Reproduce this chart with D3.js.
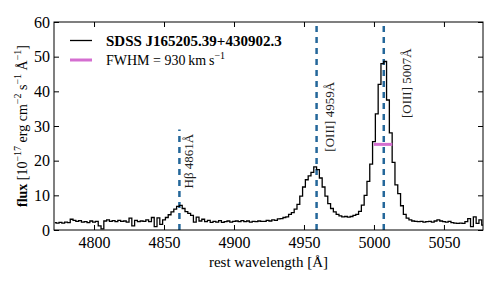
<!DOCTYPE html>
<html><head><meta charset="utf-8">
<script src="https://cdn.jsdelivr.net/npm/d3@7"></script>
<style>body{margin:0;background:#fff}svg{display:block}</style>
</head><body><svg id="c" width="498" height="285"></svg>
<script>
// ---- data ----
const lambdaStart = 4772, lambdaStep = 2;
const flux = [
 2.1,2.0,2.2,2.0,2.3,2.1,3.1,2.8,2.5,2.7,
 2.3,2.4,2.1,2.6,2.3,2.5,1.2,0.3,2.6,2.9,
 2.5,2.7,2.4,2.8,2.5,2.6,2.3,3.4,1.2,2.8,
 2.4,2.6,2.5,2.9,2.4,3.6,1.0,3.5,1.6,2.9,
 3.6,4.4,5.2,6.0,6.8,7.1,6.2,5.3,4.8,4.2,
 2.3,3.7,2.6,3.1,2.4,2.8,2.2,2.5,2.3,2.7,
 2.2,2.4,2.6,2.3,2.5,2.6,2.4,2.7,2.4,2.6,
 2.3,2.5,2.4,2.6,2.5,2.5,2.8,2.6,2.9,2.8,
 3.2,3.3,3.6,3.8,4.5,5.0,6.0,7.4,9.8,12.4,
 14.5,15.6,16.6,18.2,17.4,15.0,12.4,9.8,7.6,6.2,
 5.2,4.5,4.1,3.8,3.9,3.7,3.9,4.2,4.5,5.4,
 7.2,10.0,14.0,19.0,25.5,33.5,42.0,48.0,48.6,37.5,
 28.0,19.5,13.0,10.5,7.0,4.5,3.4,2.9,2.6,2.5,
 2.4,2.5,2.3,2.4,2.5,2.3,2.6,2.9,2.6,2.4,
 2.3,2.5,2.1,2.0,1.9,2.0,1.9,2.4,3.3,1.0,
 3.8,1.9,2.9,1.4
];
const lineNames = ["H\u03b2 4861\u00c5", "[OIII] 4959\u00c5", "[OIII] 5007\u00c5"];
const lineWaves = [4861, 4959, 5007];
const lineTops = [29, 60, 60];
const fwhmRange = [4999.9, 5013.1];
const fwhmLevel = 24.7;
const xTicks = [4800, 4850, 4900, 4950, 5000, 5050];
const yTicks = [0, 10, 20, 30, 40, 50, 60];
const objName = "SDSS J165205.39+430902.3";

// ---- drawing ----
(function () {
const serif = "'Liberation Serif', 'Times New Roman', serif";
const svg = d3.select("#c");
const L = 54, R = 483, T = 22, B = 230;
const x = d3.scaleLinear().domain([4771.4, 5077.9]).range([L, R]);
const y = d3.scaleLinear().domain([0, 60]).range([B, T]);
const blue = "#24679a", magenta = "#d46ed0";

const spec = flux.map((f, i) => [lambdaStart + i * lambdaStep, f]);

svg.append("defs").append("clipPath").attr("id", "clip")
  .append("rect").attr("x", L).attr("y", T).attr("width", R - L).attr("height", B - T);

const g = svg.append("g").attr("clip-path", "url(#clip)");

g.selectAll("line.em").data(lineWaves).join("line")
  .attr("x1", d => x(d)).attr("x2", d => x(d))
  .attr("y1", y(0)).attr("y2", (d, i) => y(lineTops[i]))
  .attr("stroke", blue).attr("stroke-width", 2.5).attr("stroke-dasharray", "6,5");

g.append("path").datum(spec)
  .attr("d", d3.line().x(d => x(d[0])).y(d => y(d[1])).curve(d3.curveStep))
  .attr("fill", "none").attr("stroke", "#000").attr("stroke-width", 1.3);

g.append("line").attr("x1", x(fwhmRange[0])).attr("x2", x(fwhmRange[1]))
  .attr("y1", y(fwhmLevel)).attr("y2", y(fwhmLevel))
  .attr("stroke", magenta).attr("stroke-width", 3);

const labelPos = [[4870.5, 12.0], [4971.4, 22.6], [5026.4, 32.3]];
svg.selectAll("text.lab").data(lineNames).join("text")
  .attr("transform", (d, i) => `translate(${x(labelPos[i][0])},${y(labelPos[i][1])}) rotate(-90)`)
  .attr("font-family", serif).attr("font-size", 13).attr("fill", "#222")
  .text(d => d);

const ax = svg.append("g").attr("font-family", serif);
const axB = ax.append("g").attr("transform", `translate(0,${B})`)
  .call(d3.axisBottom(x).tickValues(xTicks).tickSize(-5).tickPadding(7).tickFormat(d3.format("d")));
const axL = ax.append("g").attr("transform", `translate(${L},0)`)
  .call(d3.axisLeft(y).tickValues(yTicks).tickSize(-5).tickPadding(4));
const axT = ax.append("g").attr("transform", `translate(0,${T})`)
  .call(d3.axisTop(x).tickValues(xTicks).tickSize(-5).tickFormat(""));
const axR = ax.append("g").attr("transform", `translate(${R},0)`)
  .call(d3.axisRight(y).tickValues(yTicks).tickSize(-5).tickFormat(""));
[axB, axL, axT, axR].forEach(a => {
  a.select(".domain").remove();
  a.selectAll("text").attr("font-family", serif).attr("font-size", 16).attr("fill", "#000");
  a.selectAll("line").attr("stroke", "#000");
});
svg.append("rect").attr("x", L).attr("y", T).attr("width", R - L).attr("height", B - T)
  .attr("fill", "none").attr("stroke", "#000").attr("stroke-width", 1);

svg.append("text").attr("x", (L + R) / 2).attr("y", 267).attr("text-anchor", "middle")
  .attr("font-family", serif).attr("font-size", 15).text("rest wavelength [\u00c5]");

const yl = svg.append("text").attr("transform", `translate(27,${(T + B) / 2}) rotate(-90)`)
  .attr("text-anchor", "middle").attr("font-family", serif).attr("font-size", 14);
yl.append("tspan").attr("font-weight", "bold").text("flux");
yl.append("tspan").text(" [10");
yl.append("tspan").attr("font-size", 10).attr("dy", -6).text("\u221217");
yl.append("tspan").attr("dy", 6).text(" erg cm");
yl.append("tspan").attr("font-size", 10).attr("dy", -6).text("\u22122");
yl.append("tspan").attr("dy", 6).text(" s");
yl.append("tspan").attr("font-size", 10).attr("dy", -6).text("\u22121");
yl.append("tspan").attr("dy", 6).text(" \u00c5");
yl.append("tspan").attr("font-size", 10).attr("dy", -6).text("\u22121");
yl.append("tspan").attr("dy", 6).text("]");

svg.append("line").attr("x1", 70).attr("x2", 92).attr("y1", 40.5).attr("y2", 40.5)
  .attr("stroke", "#000").attr("stroke-width", 1.3);
svg.append("text").attr("x", 106).attr("y", 45.5).attr("font-family", serif)
  .attr("font-weight", "bold").attr("font-size", 15).text(objName);
svg.append("line").attr("x1", 70).attr("x2", 92).attr("y1", 60).attr("y2", 60)
  .attr("stroke", magenta).attr("stroke-width", 3);
const lt = svg.append("text").attr("x", 106).attr("y", 64.5).attr("font-family", serif).attr("font-size", 14);
lt.append("tspan").text("FWHM = 930\u2009km\u2009s");
lt.append("tspan").attr("font-size", 10).attr("dy", -6).text("\u22121");
})();
</script></body></html>
